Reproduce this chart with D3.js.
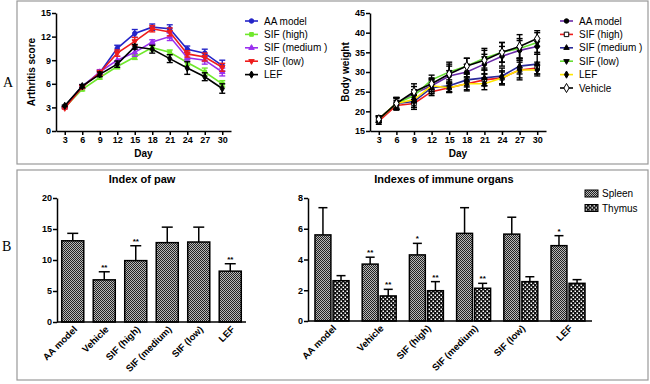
<!DOCTYPE html>
<html>
<head>
<meta charset="utf-8">
<script src="https://cdn.jsdelivr.net/npm/d3@7"></script>
<style>
body { margin: 0; background: #fff; }
svg { font-family: "Liberation Sans", Arial, sans-serif; }
.axis path, .axis line { stroke: #000; stroke-width: 1.5px; }
.axis text { font-size: 9px; font-weight: bold; fill: #000; }
.ttl { font-size: 10px; font-weight: bold; }
.leg { font-size: 10px; }
</style>
</head>
<body>
<svg id="chart" width="650" height="384"></svg>
<script>
// ---- data ----
const days = [3, 6, 9, 12, 15, 18, 21, 24, 27, 30];

const scoreNames = ["AA model", "SIF (high)", "SIF (medium )", "SIF (low)", "LEF"];
const scoreAA      = [3.1, 5.7, 7.4, 10.5, 12.4, 13.2, 13.0, 10.4, 9.9, 8.3];
const scoreAAErr   = [0.1, 0.2, 0.3, 0.4, 0.5, 0.4, 0.5, 0.4, 0.5, 0.7];
const scoreHigh    = [3.0, 5.3, 6.8, 8.2, 9.4, 10.6, 10.0, 8.7, 7.5, 6.0];
const scoreHighErr = [0.1, 0.2, 0.2, 0.3, 0.3, 0.4, 0.3, 0.4, 0.5, 0.4];
const scoreMed     = [3.0, 5.6, 7.5, 9.0, 10.0, 11.3, 12.0, 9.3, 9.0, 7.5];
const scoreMedErr  = [0.1, 0.2, 0.3, 0.5, 0.5, 0.3, 0.5, 0.4, 0.5, 0.5];
const scoreLow     = [2.9, 5.6, 7.4, 9.9, 11.4, 13.0, 12.6, 9.8, 9.4, 8.1];
const scoreLowErr  = [0.1, 0.2, 0.3, 0.4, 0.5, 0.4, 0.5, 0.4, 0.5, 0.5];
const scoreLEF     = [3.2, 5.7, 7.2, 8.5, 10.7, 10.4, 9.2, 8.0, 6.9, 5.4];
const scoreLEFErr  = [0.1, 0.2, 0.3, 0.4, 0.3, 0.5, 0.5, 0.8, 0.5, 0.6];

const weightNames = ["AA model", "SIF (high)", "SIF (medium )", "SIF (low)", "LEF", "Vehicle"];
const weightAA      = [18.0, 22.0, 24.5, 26.5, 29.0, 30.0, 32.0, 34.0, 35.5, 36.5];
const weightAAErr   = [0.8, 1.5, 1.8, 1.5, 2.5, 2.0, 2.5, 2.5, 2.5, 2.0];
const weightHigh    = [17.5, 21.5, 22.0, 25.0, 26.0, 27.0, 28.0, 28.5, 30.5, 31.0];
const weightHighErr = [0.8, 1.2, 1.5, 1.0, 1.2, 1.8, 1.5, 1.5, 2.5, 1.5];
const weightMed     = [18.0, 22.0, 22.5, 26.0, 26.5, 28.0, 28.5, 29.0, 31.5, 32.0];
const weightMedErr  = [0.8, 1.5, 1.5, 1.5, 1.5, 1.8, 2.0, 2.0, 2.0, 2.5];
const weightLow     = [18.0, 22.0, 24.0, 28.0, 30.0, 31.5, 33.5, 35.0, 36.0, 37.5];
const weightLowErr  = [0.8, 1.5, 1.5, 1.2, 2.5, 2.0, 2.5, 2.5, 2.5, 2.5];
const weightLEF     = [18.0, 22.0, 23.0, 26.5, 26.0, 27.0, 27.0, 28.5, 30.5, 30.5];
const weightLEFErr  = [0.8, 1.2, 2.0, 1.5, 1.2, 1.5, 1.5, 1.8, 2.0, 1.5];
const weightVeh     = [18.0, 22.0, 25.0, 27.0, 29.5, 31.5, 33.0, 35.0, 36.5, 38.5];
const weightVehErr  = [0.8, 1.5, 2.0, 1.5, 2.5, 2.0, 2.5, 2.5, 3.0, 2.0];

const groups = ["AA model", "Vehicle", "SIF (high)", "SIF (medium)", "SIF (low)", "LEF"];
const pawIndex    = [13.1, 6.8, 9.9, 12.8, 12.9, 8.2];
const pawErr      = [1.2, 1.3, 2.4, 2.5, 2.4, 1.2];
const pawStars    = ["", "**", "**", "", "", "**"];

const organs = ["Spleen", "Thymus"];
const spleenIndex = [5.6, 3.7, 4.3, 5.7, 5.65, 4.9];
const spleenErr   = [1.77, 0.45, 0.75, 1.67, 1.1, 0.65];
const spleenStars = ["", "**", "*", "", "", "*"];
const thymusIndex = [2.62, 1.63, 1.97, 2.13, 2.56, 2.45];
const thymusErr   = [0.33, 0.43, 0.59, 0.32, 0.32, 0.24];
const thymusStars = ["", "**", "**", "**", "", ""];

const scoreTicks  = [0, 3, 6, 9, 12, 15];
const weightTicks = [15, 20, 25, 30, 35, 40, 45];
const pawTicks    = [0, 5, 10, 15, 20];
const organTicks  = [0, 2, 4, 6, 8];

// ---- drawing ----
const svg = d3.select("#chart");

const defs = svg.append("defs");
let sp = defs.append("pattern").attr("id", "spleenPat").attr("width", 2).attr("height", 2)
	.attr("patternUnits", "userSpaceOnUse");
sp.append("rect").attr("width", 2).attr("height", 2).attr("fill", "#b8b8b8");
sp.append("rect").attr("width", 1).attr("height", 1).attr("fill", "#222");
sp.append("rect").attr("x", 1).attr("y", 1).attr("width", 1).attr("height", 1).attr("fill", "#222");
let tp = defs.append("pattern").attr("id", "thymusPat").attr("width", 4).attr("height", 4)
	.attr("patternUnits", "userSpaceOnUse");
tp.append("rect").attr("width", 4).attr("height", 4).attr("fill", "#111");
tp.append("rect").attr("x", 0.5).attr("y", 0.5).attr("width", 1.5).attr("height", 1.5).attr("fill", "#fff");
tp.append("rect").attr("x", 2.5).attr("y", 2.5).attr("width", 1.5).attr("height", 1.5).attr("fill", "#fff");

// panel frames
svg.append("rect").attr("x", 17).attr("y", 1).attr("width", 631).attr("height", 163)
	.attr("fill", "none").attr("stroke", "#999").attr("stroke-width", 1.2);
svg.append("rect").attr("x", 17).attr("y", 170).attr("width", 631).attr("height", 210)
	.attr("fill", "none").attr("stroke", "#999").attr("stroke-width", 1.2);
svg.append("text").attr("x", 3).attr("y", 87).text("A")
	.style("font-family", "'Liberation Serif', 'DejaVu Serif', serif").style("font-size", "14px");
svg.append("text").attr("x", 2).attr("y", 251).text("B")
	.style("font-family", "'Liberation Serif', 'DejaVu Serif', serif").style("font-size", "14px");

function lineChart(opt) {
	let x = d3.scaleLinear().domain([1.5, 31.5]).range([opt.left, opt.right]);
	let y = d3.scaleLinear().domain(opt.domain).range([131, 13]);

	svg.append("g").attr("class", "axis").attr("transform", "translate(0,131)")
		.call(d3.axisBottom(x).tickValues(days).tickSize(4).tickPadding(2).tickSizeOuter(0));
	svg.append("g").attr("class", "axis").attr("transform", "translate(" + opt.left + ",0)")
		.call(d3.axisLeft(y).tickValues(opt.ticks).tickSize(4).tickPadding(1).tickSizeOuter(0));

	svg.append("text").attr("class", "ttl").attr("x", (x(3) + x(30)) / 2).attr("y", 157)
		.attr("text-anchor", "middle").text("Day");
	svg.append("text").attr("class", "ttl")
		.attr("transform", "translate(" + opt.ylabX + ",72) rotate(-90)")
		.attr("text-anchor", "middle").text(opt.ylab);

	let line = d3.line().x((d) => x(d.day)).y((d) => y(d.v));

	opt.series.forEach((s, i) => {
		let pts = days.map((d, k) => ({ day: d, v: s.values[k], e: s.err[k] }));
		let g = svg.append("g");
		g.append("path").datum(pts).attr("d", line).attr("fill", "none")
			.attr("stroke", s.line).attr("stroke-width", 1.6);
		let eb = g.selectAll("g.eb").data(pts).enter().append("g")
			.attr("stroke", s.errColor).attr("stroke-width", 1.4);
		eb.append("line").attr("x1", (d) => x(d.day)).attr("x2", (d) => x(d.day))
			.attr("y1", (d) => y(d.v - d.e)).attr("y2", (d) => y(d.v + d.e));
		eb.append("line").attr("x1", (d) => x(d.day) - 3).attr("x2", (d) => x(d.day) + 3)
			.attr("y1", (d) => y(d.v + d.e)).attr("y2", (d) => y(d.v + d.e));
		eb.append("line").attr("x1", (d) => x(d.day) - 3).attr("x2", (d) => x(d.day) + 3)
			.attr("y1", (d) => y(d.v - d.e)).attr("y2", (d) => y(d.v - d.e));
		g.selectAll("path.mk").data(pts).enter().append("path")
			.attr("transform", (d) => "translate(" + x(d.day) + "," + y(d.v) + ")" + (s.flip ? " rotate(180)" : ""))
			.attr("d", d3.symbol().type(s.symbol).size(s.size))
			.attr("fill", s.fill).attr("stroke", s.stroke).attr("stroke-width", 1);

		// legend
		let ly = 21 + i * 13.4;
		let lg = svg.append("g").attr("transform", "translate(" + opt.legX + "," + ly + ")");
		lg.append("line").attr("x1", 0).attr("x2", 13).attr("stroke", s.line).attr("stroke-width", 1.6);
		lg.append("path").attr("transform", "translate(6.5,0)" + (s.flip ? " rotate(180)" : ""))
			.attr("d", d3.symbol().type(s.symbol).size(s.size))
			.attr("fill", s.fill).attr("stroke", s.stroke).attr("stroke-width", 1);
		lg.append("text").attr("class", "leg").attr("x", 19).attr("y", 3.5).text(opt.names[i]);
	});
}

lineChart({
	left: 56, right: 231, domain: [0, 15], ticks: scoreTicks, ylab: "Arthritis score", ylabX: 35,
	legX: 245, names: scoreNames,
	series: [
		{ values: scoreAA, err: scoreAAErr, line: "#2424c8", errColor: "#2424c8", fill: "#2424c8", stroke: "#2424c8", symbol: d3.symbolCircle, size: 16 },
		{ values: scoreHigh, err: scoreHighErr, line: "#70e82c", errColor: "#70e82c", fill: "#70e82c", stroke: "#70e82c", symbol: d3.symbolSquare, size: 14 },
		{ values: scoreMed, err: scoreMedErr, line: "#9a30ee", errColor: "#9a30ee", fill: "#9a30ee", stroke: "#9a30ee", symbol: d3.symbolTriangle, size: 13 },
		{ values: scoreLow, err: scoreLowErr, line: "#ee1c1c", errColor: "#ee1c1c", fill: "#ee1c1c", stroke: "#ee1c1c", symbol: d3.symbolTriangle, size: 13, flip: true },
		{ values: scoreLEF, err: scoreLEFErr, line: "#000", errColor: "#000", fill: "#000", stroke: "#000", symbol: d3.symbolDiamond, size: 15 }
	]
});

lineChart({
	left: 370, right: 546, domain: [15, 45], ticks: weightTicks, ylab: "Body weight", ylabX: 349,
	legX: 560, names: weightNames,
	series: [
		{ values: weightAA, err: weightAAErr, line: "#6a2aa8", errColor: "#000", fill: "#000", stroke: "#000", symbol: d3.symbolCircle, size: 16 },
		{ values: weightHigh, err: weightHighErr, line: "#ee1c1c", errColor: "#000", fill: "#fff", stroke: "#000", symbol: d3.symbolSquare, size: 20 },
		{ values: weightMed, err: weightMedErr, line: "#2a2a9a", errColor: "#000", fill: "#000", stroke: "#000", symbol: d3.symbolTriangle, size: 13 },
		{ values: weightLow, err: weightLowErr, line: "#66dd33", errColor: "#000", fill: "#000", stroke: "#000", symbol: d3.symbolTriangle, size: 13, flip: true },
		{ values: weightLEF, err: weightLEFErr, line: "#ffe600", errColor: "#000", fill: "#000", stroke: "#000", symbol: d3.symbolDiamond, size: 15 },
		{ values: weightVeh, err: weightVehErr, line: "#000", errColor: "#000", fill: "#fff", stroke: "#000", symbol: d3.symbolDiamond, size: 24 }
	]
});

// ---- bar charts ----
function errBar(g, cx, yTop, yErr, half) {
	g.append("line").attr("x1", cx).attr("x2", cx).attr("y1", yTop).attr("y2", yErr)
		.attr("stroke", "#000").attr("stroke-width", 1.5);
	g.append("line").attr("x1", cx - half).attr("x2", cx + half).attr("y1", yErr).attr("y2", yErr)
		.attr("stroke", "#000").attr("stroke-width", 1.5);
}
function star(g, cx, yErr, s) {
	if (!s) return;
	g.append("text").attr("x", cx).attr("y", yErr - 2).attr("text-anchor", "middle")
		.style("font-size", "8px").style("font-weight", "bold").text(s);
}
function catLabels(g, x, y0) {
	g.selectAll("text.cat").data(groups).enter().append("text")
		.attr("transform", (d) => "translate(" + (x(d) + x.bandwidth() / 2 + 5) + "," + (y0 + 8) + ") rotate(-45)")
		.attr("text-anchor", "end").style("font-size", "9.5px").style("font-weight", "bold").text((d) => d);
}

// Index of paw
{
	let x = d3.scaleBand().domain(groups).range([57, 246]).paddingInner(0.3).paddingOuter(0.15);
	let y = d3.scaleLinear().domain([0, 20]).range([322, 198]);
	let g = svg.append("g");
	pawIndex.forEach((v, i) => {
		let cx = x(groups[i]) + x.bandwidth() / 2;
		errBar(g, cx, y(v), y(v + pawErr[i]), 5.5);
		star(g, cx, y(v + pawErr[i]), pawStars[i]);
	});
	g.selectAll("rect").data(pawIndex).enter().append("rect")
		.attr("x", (d, i) => x(groups[i])).attr("y", (d) => y(d))
		.attr("width", x.bandwidth()).attr("height", (d) => y(0) - y(d))
		.attr("fill", "url(#spleenPat)").attr("stroke", "#000").attr("stroke-width", 1.5);
	svg.append("g").attr("class", "axis").attr("transform", "translate(57,0)")
		.call(d3.axisLeft(y).tickValues(pawTicks).tickSize(4).tickPadding(1).tickSizeOuter(0));
	svg.append("line").attr("x1", 57).attr("x2", 246).attr("y1", 322).attr("y2", 322)
		.attr("stroke", "#000").attr("stroke-width", 1.5);
	catLabels(g, x, 322);
	svg.append("text").attr("x", 142).attr("y", 183).attr("text-anchor", "middle")
		.style("font-size", "11px").style("font-weight", "bold").text("Index of paw");
}

// Indexes of immune organs
{
	let x0 = d3.scaleBand().domain(groups).range([308, 592]).paddingInner(0.28).paddingOuter(0.148);
	let x1 = d3.scaleBand().domain(organs).range([0, x0.bandwidth()]).paddingInner(0.12);
	let y = d3.scaleLinear().domain([0, 8]).range([321, 198]);
	let g = svg.append("g");
	let vals = [spleenIndex, thymusIndex], errs = [spleenErr, thymusErr], stars = [spleenStars, thymusStars];
	let pats = ["url(#spleenPat)", "url(#thymusPat)"];
	organs.forEach((o, k) => {
		vals[k].forEach((v, i) => {
			let bx = x0(groups[i]) + x1(o);
			let cx = bx + x1.bandwidth() / 2;
			errBar(g, cx, y(v), y(v + errs[k][i]), 4.5);
			star(g, cx, y(v + errs[k][i]), stars[k][i]);
			g.append("rect").attr("x", bx).attr("y", y(v))
				.attr("width", x1.bandwidth()).attr("height", y(0) - y(v))
				.attr("fill", pats[k]).attr("stroke", "#000").attr("stroke-width", 1.5);
		});
	});
	svg.append("g").attr("class", "axis").attr("transform", "translate(308,0)")
		.call(d3.axisLeft(y).tickValues(organTicks).tickSize(4).tickPadding(1).tickSizeOuter(0));
	svg.append("line").attr("x1", 308).attr("x2", 592).attr("y1", 321).attr("y2", 321)
		.attr("stroke", "#000").attr("stroke-width", 1.5);
	catLabels(g, x0, 321);
	svg.append("text").attr("x", 444).attr("y", 183).attr("text-anchor", "middle")
		.style("font-size", "11px").style("font-weight", "bold").text("Indexes of immune organs");

	organs.forEach((o, k) => {
		let lg = svg.append("g").attr("transform", "translate(585," + (190 + k * 14.5) + ")");
		lg.append("rect").attr("width", 13).attr("height", 7).attr("fill", pats[k])
			.attr("stroke", "#000").attr("stroke-width", 1);
		lg.append("text").attr("class", "leg").attr("x", 17).attr("y", 7).text(o);
	});
}
</script>
</body>
</html>
